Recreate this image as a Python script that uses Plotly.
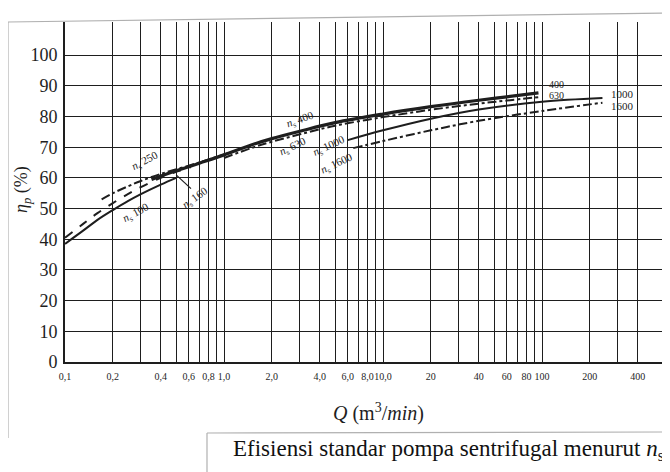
import plotly.graph_objects as go
import math

# ---- data ----
ns100_x = [0.1, 0.13, 0.16, 0.2, 0.25, 0.3, 0.4, 0.5]
ns100_y = [38.5, 42.8, 46.3, 49.5, 52.5, 54.7, 57.8, 60.0]
ns160_x = [0.1, 0.13, 0.16, 0.2, 0.25, 0.3, 0.4, 0.5, 0.62]
ns160_y = [40.5, 45.0, 48.5, 51.8, 54.8, 57.0, 60.0, 62.0, 63.5]
ns250_x = [0.17, 0.2, 0.25, 0.3, 0.4, 0.6, 0.8, 1.2]
ns250_y = [53.0, 55.0, 57.3, 59.0, 61.3, 64.0, 66.0, 69.0]
ns400_x = [0.35, 0.5, 0.7, 1.0, 1.5, 2.0, 3.0, 5.0, 10, 20, 40, 60, 95]
ns400_y = [59.5, 62.3, 64.8, 67.5, 70.8, 72.8, 75.2, 78.0, 80.8, 83.2, 85.3, 86.4, 87.7]
ns630_x = [1.0, 1.5, 2.0, 3.0, 5.0, 10, 20, 40, 60, 95]
ns630_y = [66.5, 69.8, 71.8, 74.2, 77.0, 79.8, 82.2, 84.2, 85.2, 86.3]
ns1000_x = [6.0, 10, 20, 40, 100, 240]
ns1000_y = [72.3, 75.5, 79.3, 82.3, 84.8, 86.0]
ns1600_x = [6.5, 10, 20, 40, 100, 240]
ns1600_y = [69.7, 72.0, 75.5, 78.6, 81.8, 84.5]

y_ticks = [0, 10, 20, 30, 40, 50, 60, 70, 80, 90, 100]
x_tickvals = [0.1, 0.2, 0.4, 0.6, 0.8, 1, 2, 4, 6, 8, 10, 20, 40, 60, 80, 100, 200, 400]
x_ticktext = ["0,1", "0,2", "0,4", "0,6", "0,8", "1,0", "2,0", "4,0", "6,0", "8,0",
              "10,0", "20", "40", "60", "80", "100", "200", "400"]
x_minor_grid = [0.3, 0.5, 0.7, 0.9, 3, 5, 7, 9, 30, 50, 70, 90, 300]

SERIF = "Liberation Serif, Times New Roman, serif"
INK = "#1e1e1e"

fig = go.Figure()

def add(x, y, width, dash):
    fig.add_trace(go.Scatter(x=x, y=y, mode="lines",
                             line=dict(color=INK, width=width, dash=dash, shape="spline"),
                             showlegend=False, hoverinfo="skip"))

add(ns100_x, ns100_y, 2.0, "solid")
add(ns160_x, ns160_y, 2.0, "dash")
add(ns250_x, ns250_y, 2.0, "dashdot")
add(ns400_x, ns400_y, 3.2, "solid")
add(ns630_x, ns630_y, 2.0, "dashdot")
add(ns1000_x, ns1000_y, 2.0, "solid")
add(ns1600_x, ns1600_y, 2.0, "dashdot")

# leader for n_s 160 label
fig.add_trace(go.Scatter(x=[0.5, 0.62], y=[61.0, 56.5], mode="lines",
                         line=dict(color=INK, width=1.2), showlegend=False, hoverinfo="skip"))

def lab(text, x, y, ang, size=11, anchor="center"):
    fig.add_annotation(x=math.log10(x), y=y, text=text, showarrow=False, textangle=ang,
                       font=dict(family=SERIF, size=size, color=INK), xanchor=anchor,
                       yanchor="middle")

NS = "<i>n</i><sub>s</sub> "
lab(NS + "250", 0.32, 65.5, -28)
lab(NS + "100", 0.28, 48.5, -28)
lab(NS + "160", 0.66, 53.5, -35)
lab(NS + "400", 3.0, 79.0, -20)
lab(NS + "630", 2.7, 70.0, -25)
lab(NS + "1000", 4.6, 70.5, -25)
lab(NS + "1600", 5.1, 64.5, -25)
lab("400", 107, 90.3, 0, 10, "left")
lab("630", 107, 87.0, 0, 10, "left")
lab("1000", 265, 87.3, 0, 11, "left")
lab("1600", 265, 83.3, 0, 11, "left")

fig.update_xaxes(type="log", range=[-1, 2.761],
                 tickvals=x_tickvals, ticktext=x_ticktext,
                 showgrid=True, gridcolor=INK, gridwidth=1.4,
                 minor=dict(tickvals=x_minor_grid, showgrid=True, gridcolor=INK,
                            gridwidth=1.4, ticks=""),
                 showline=True, linecolor=INK, linewidth=1.6,
                 ticks="", tickangle=0, ticklabelstandoff=4,
                 tickfont=dict(family=SERIF, size=10, color=INK),
                 zeroline=False)
fig.update_yaxes(range=[0, 110.8], tickvals=y_ticks,
                 showgrid=True, gridcolor=INK, gridwidth=1.4,
                 showline=True, linecolor=INK, linewidth=1.6,
                 ticks="", ticklabelstandoff=2,
                 tickfont=dict(family=SERIF, size=18, color=INK),
                 zeroline=False)

# screen-pixel -> paper helpers (plot area on screen: x 65..663, y 22..362)
def px(xp): return (xp - 65) / 598
def py(yp): return (362 - yp) / 340

# axis titles
fig.add_annotation(xref="paper", yref="paper", x=px(378), y=py(413),
                   xanchor="center", yanchor="middle",
                   text="<i>Q</i> (m<sup>3</sup>/<i>min</i>)", showarrow=False,
                   font=dict(family=SERIF, size=20, color=INK))
fig.add_annotation(xref="paper", yref="paper", x=px(22), y=py(190),
                   xanchor="center", yanchor="middle",
                   text="<i>η</i><sub><i>p</i></sub> (%)", showarrow=False, textangle=-90,
                   font=dict(family=SERIF, size=18, color=INK))
# caption
fig.add_annotation(xref="paper", yref="paper", x=px(231), y=py(450),
                   xanchor="left", yanchor="middle",
                   text="Efisiensi standar pompa sentrifugal menurut <i>n</i><sub>s</sub>",
                   showarrow=False, font=dict(family=SERIF, size=23, color="#111"))

# scan frame lines
GRAY = "#b0b0b0"
fig.add_shape(type="line", xref="paper", yref="paper", x0=px(8), y0=py(438), x1=px(8), y1=py(22),
              line=dict(color=GRAY, width=1.2))
fig.add_shape(type="line", xref="paper", yref="paper", x0=px(8), y0=py(22), x1=px(670), y1=py(13),
              line=dict(color=GRAY, width=1.2))
fig.add_shape(type="line", xref="paper", yref="paper", x0=px(207), y0=py(433), x1=px(670), y1=py(432),
              line=dict(color=GRAY, width=1.2))
fig.add_shape(type="line", xref="paper", yref="paper", x0=px(207), y0=py(433), x1=px(207), y1=py(472),
              line=dict(color=GRAY, width=1.2))

# page body has an 8px default margin, so margins are offset by 8px
fig.update_layout(width=670, height=472, margin=dict(l=57, r=15, t=14, b=118, autoexpand=False),
                  paper_bgcolor="white", plot_bgcolor="white", showlegend=False)

fig.write_html("out.html")
